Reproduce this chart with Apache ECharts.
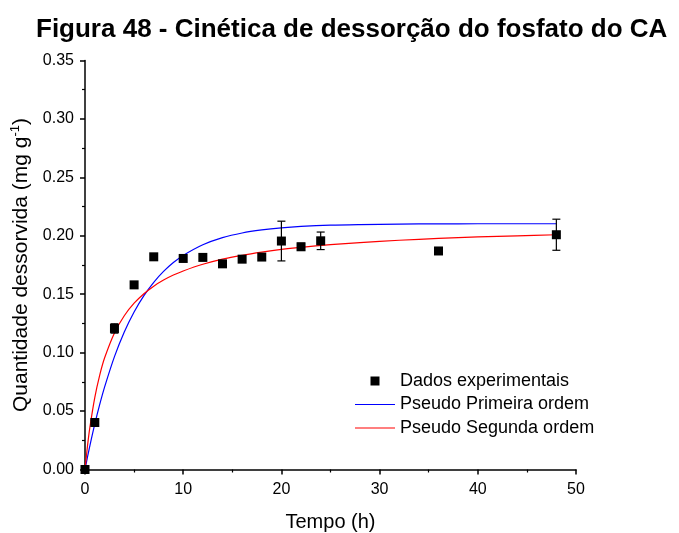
<!DOCTYPE html>
<html>
<head>
<meta charset="utf-8">
<script src="https://cdn.jsdelivr.net/npm/echarts@6/dist/echarts.min.js"></script>
<style>html,body{margin:0;padding:0;background:#fff}#c{width:679px;height:533px}</style>
</head>
<body>
<div id="c"></div>
<script>
// Experimental data
const times = [0, 1, 3, 5, 7, 10, 12, 14, 16, 18, 20, 22, 24, 36, 48];
const qExp  = [0, 0.0402, 0.1207, 0.158, 0.182, 0.1806, 0.1815, 0.176, 0.180, 0.1818, 0.1955, 0.1906, 0.1957, 0.187, 0.2009];
const qErr  = [0, 0.002, 0.004, 0, 0, 0, 0, 0, 0, 0, 0.017, 0.003, 0.0075, 0, 0.0133];
// Fitted curves
const tFit = [0, 0.25, 0.5, 1, 1.5, 2, 3, 4, 5, 6, 7, 8, 9, 10, 12, 14, 16, 18, 20, 22, 25, 28, 32, 36, 40, 44, 48];
const qPFO = [0, 0.0105, 0.0205, 0.0390, 0.0557, 0.0707, 0.0966, 0.1177, 0.1348, 0.1488, 0.1602, 0.1695, 0.1771, 0.1832, 0.1923, 0.1984, 0.2024, 0.2050, 0.2068, 0.2080, 0.2091, 0.2096, 0.2100, 0.2102, 0.2103, 0.2103, 0.2103];
const qPSO = [0, 0.0198, 0.0362, 0.0618, 0.0808, 0.0956, 0.1169, 0.1316, 0.1423, 0.1504, 0.1569, 0.1621, 0.1664, 0.1699, 0.1756, 0.1800, 0.1833, 0.1860, 0.1883, 0.1901, 0.1924, 0.1942, 0.1962, 0.1977, 0.1990, 0.2000, 0.2009];
const seriesNames = ['Dados experimentais', 'Pseudo Primeira ordem', 'Pseudo Segunda ordem'];

const chart = echarts.init(document.getElementById('c'));
const font = 'Arial, "Liberation Sans", sans-serif';
const axisCommon = {
  axisLine: {show: true, lineStyle: {color: '#000', width: 1.5}},
  axisTick: {show: true, inside: false, length: 5, lineStyle: {color: '#000', width: 1.5}},
  minorTick: {show: true, splitNumber: 2, length: 3, lineStyle: {color: '#000', width: 1.2}},
  splitLine: {show: false},
  axisLabel: {color: '#000', fontSize: 16, fontFamily: font},
  nameTextStyle: {color: '#000', fontSize: 20, fontFamily: font}
};
chart.setOption({
  animation: false,
  backgroundColor: '#fff',
  title: {
    text: 'Figura 48 - Cinética de dessorção do fosfato do CA',
    left: 31, top: 12,
    textStyle: {fontSize: 26, fontWeight: 'bold', color: '#000', fontFamily: font}
  },
  grid: {left: 85, right: 103, top: 60.5, bottom: 63.5, containLabel: false, outerBoundsMode: 'none'},
  legend: {
    orient: 'vertical', left: 350, top: 367,
    itemWidth: 40, itemHeight: 9, itemGap: 5.5,
    textStyle: {fontSize: 18, color: '#000', fontFamily: font},
    data: [
      {name: seriesNames[0], icon: 'path://M0,0h10v10h-10z'},
      {name: seriesNames[1], icon: 'path://M0,0h40v1.2h-40z'},
      {name: seriesNames[2], icon: 'path://M0,0h40v1.2h-40z'}
    ]
  },
  xAxis: Object.assign({}, axisCommon, {
    type: 'value', min: 0, max: 50, interval: 10,
    name: 'Tempo (h)', nameLocation: 'middle', nameGap: 43,
    axisLabel: Object.assign({}, axisCommon.axisLabel, {margin: 12})
  }),
  yAxis: Object.assign({}, axisCommon, {
    type: 'value', min: 0, max: 0.35, interval: 0.05,
    name: '{a|Quantidade dessorvida (mg g}{s|-1}{a|)}', nameLocation: 'middle', nameGap: 50,
    nameTextStyle: {color: '#000', fontFamily: font, rich: {
      a: {fontSize: 21, color: '#000', fontFamily: font},
      s: {fontSize: 13, color: '#000', fontFamily: font, verticalAlign: 'top', padding: [0, 0, 12, 0]}
    }},
    axisLabel: Object.assign({}, axisCommon.axisLabel, {margin: 11, formatter: v => v.toFixed(2)})
  }),
  series: [
    {
      name: seriesNames[1], type: 'line', symbol: 'none', smooth: 0.3, z: 3,
      lineStyle: {color: '#0000ff', width: 1.2}, itemStyle: {color: '#0000ff'},
      data: tFit.map((t, i) => [t, qPFO[i]])
    },
    {
      name: seriesNames[2], type: 'line', symbol: 'none', smooth: 0.3, z: 3,
      lineStyle: {color: '#ff0000', width: 1.2}, itemStyle: {color: '#ff0000'},
      data: tFit.map((t, i) => [t, qPSO[i]])
    },
    {
      name: 'err', type: 'custom', z: 4,
      renderItem: function (params, api) {
        const x = api.value(0), y = api.value(1), e = api.value(2);
        if (!e) return null;
        const top = api.coord([x, y + e]);
        const bot = api.coord([x, y - e]);
        const cw = 4;
        const style = {stroke: '#000', lineWidth: 1.2};
        return {type: 'group', children: [
          {type: 'line', shape: {x1: top[0], y1: top[1], x2: bot[0], y2: bot[1]}, style: style},
          {type: 'line', shape: {x1: top[0] - cw, y1: top[1], x2: top[0] + cw, y2: top[1]}, style: style},
          {type: 'line', shape: {x1: bot[0] - cw, y1: bot[1], x2: bot[0] + cw, y2: bot[1]}, style: style}
        ]};
      },
      data: times.map((t, i) => [t, qExp[i], qErr[i]])
    },
    {
      name: seriesNames[0], type: 'scatter', symbol: 'rect', symbolSize: 9, z: 5,
      itemStyle: {color: '#000', opacity: 1},
      data: times.map((t, i) => [t, qExp[i]])
    }
  ]
});
</script>
</body>
</html>
